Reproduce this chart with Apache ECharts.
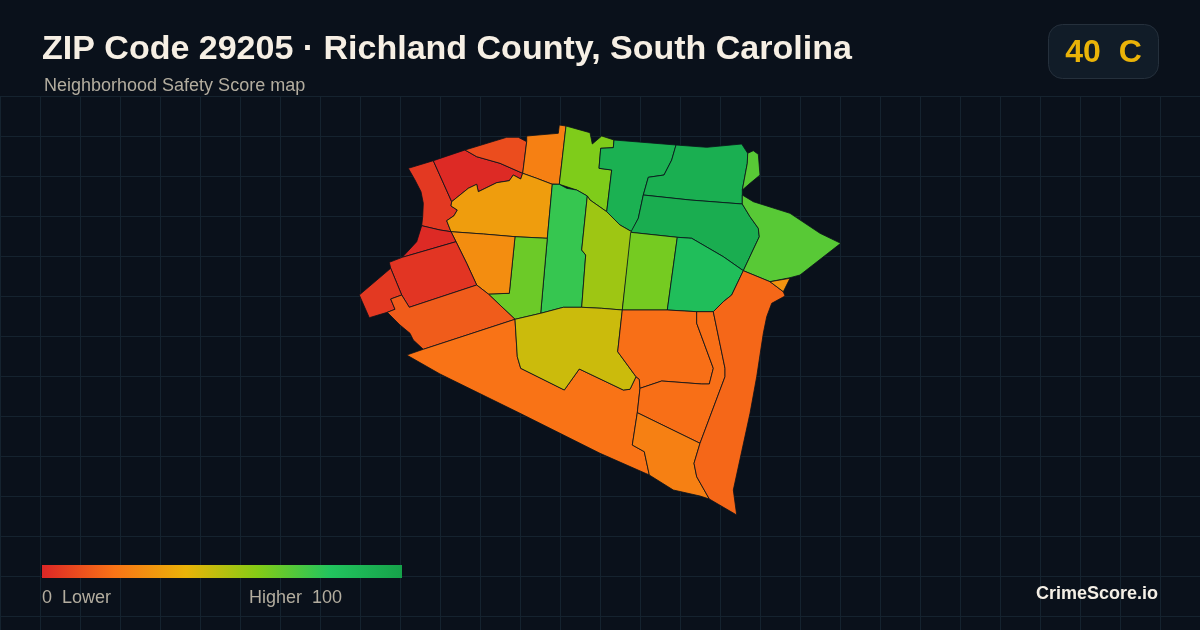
<!DOCTYPE html>
<html>
<head>
<meta charset="utf-8">
<style>html,body{margin:0;padding:0;background:#0a111b}#c{width:1200px;height:630px}</style>
<script src="https://cdn.jsdelivr.net/npm/echarts@6/dist/echarts.min.js"></script>
</head>
<body>
<div id="c"></div>
<script>
// Chart text
const titleText = 'ZIP Code 29205 · Richland County, South Carolina';
const subtitleText = 'Neighborhood Safety Score map';
const gradeText = '40  C';
const legendLow = '0  Lower';
const legendHigh = 'Higher  100';
const brandText = 'CrimeScore.io';

// Score scale
const scoreMin = 0;
const scoreMax = 100;
const scaleColors = ['#dc2626', '#f97316', '#eab308', '#84cc16', '#22c55e', '#16a34a'];

// Neighborhood scores
const regionNames = ['A','B','C','D','E','F','G','H','I','J','K','L','M','N','O','P','Q','S','R','T','U','V','W','X','Z','AA','AB','AC'];
const regionScores = [5,1,10,24,33,61,92,93,94,69,69,76,55,63,84,65,28,1,4,5,14,20,46,19,19,24,17,30];

// Neighborhood outlines (map units, y pointing down)
const regionOutlines = [
 [[408.3,168.3],[433.3,160.7],[451.7,201.7],[451,206],[457.3,210],[454,215.7],[446.7,220.7],[451,231.7],[440,230],[421.7,225.7],[422.7,216.7],[423.3,203.3],[421,191.7],[415,180]],
 [[433.3,160.7],[465,150],[476.7,156.7],[500,163.3],[522.7,173.3],[520.7,179],[513.3,175],[509.3,180.7],[496.7,182.7],[478.3,191.7],[476.7,184.3],[468.3,188.3],[451.7,201.7]],
 [[465,150],[506.7,137.3],[518.3,137.3],[526.7,141.7],[522.7,173.3],[500,163.3],[476.7,156.7]],
 [[526.7,141.7],[526.7,136],[558.3,133.3],[559.3,125],[566,126],[559.3,184.3],[551.7,184],[536.7,178.3],[522.7,173.3]],
 [[513.3,175],[520.7,179],[522.7,173.3],[536.7,178.3],[552.3,184.3],[547.3,238.3],[515,236.7],[483.3,234],[451,231.7],[446.7,220.7],[454,215.7],[457.3,210],[451,206],[451.7,201.7],[468.3,188.3],[476.7,184.3],[478.3,191.7],[496.7,182.7],[509.3,180.7]],
 [[566,126],[590,132.7],[592.3,144],[601.7,136],[614,140],[613.3,147.7],[600.7,148.3],[599,168.3],[611.7,170],[606.7,211.7],[590,200],[587.3,196],[576.7,190],[559.3,184.3]],
 [[614,140],[676,145],[671.7,160],[664,175],[648.3,177.3],[643.3,195],[638.3,218.3],[631.7,231.7],[620,225],[606.7,211.7],[611.7,170],[599,168.3],[600.7,148.3],[613.3,147.7]],
 [[676,145],[706.7,147.3],[741.7,144],[747.7,153.3],[747.3,163.3],[742.3,190],[742.3,204],[690,200],[643.3,195],[648.3,177.3],[664,175],[671.7,160]],
 [[643.3,195],[690,200],[742.3,204],[750,216.7],[758.3,228.3],[759.3,236.7],[743.3,270.7],[723.3,256.7],[691.7,238.3],[677.3,237.3],[630.7,232.3],[631.7,231.7],[638.3,218.3]],
 [[747.7,153.3],[753.3,150.7],[758.3,154.3],[760,175],[750,183.3],[742.3,190],[747.3,163.3]],
 [[742.3,204],[742.3,195],[753.3,201.7],[790,213.3],[820,233.3],[840.7,243.3],[800,275],[790,277.7],[770,281.7],[743.3,270.7],[759.3,236.7],[758.3,228.3],[750,216.7]],
 [[552.3,184.3],[559.3,184.3],[566.7,188.3],[576.7,190],[587.3,196],[581.7,250],[585.7,255],[581.7,307.3],[563.3,307.3],[540.7,313.3],[547.3,238.3]],
 [[587.3,196],[590,200],[606.7,211.7],[620,225],[631.7,231.7],[630.7,232.3],[622.3,310],[601.7,308.3],[581.7,307.3],[585.7,255],[581.7,250]],
 [[630.7,232.3],[677.3,237.3],[667.3,310],[622.3,310]],
 [[677.3,237.3],[691.7,238.3],[723.3,256.7],[743.3,270.7],[731.7,295],[723.3,301.7],[713.3,311.7],[696.7,311.7],[667.3,310]],
 [[515,236.7],[547.3,238.3],[540.7,313.3],[515,319.3],[488.3,294],[509.3,293.3]],
 [[451,231.7],[483.3,234],[515,236.7],[509.3,293.3],[488.3,294],[476.7,285],[466.7,263.3],[456,241.7]],
 [[421.7,225.7],[440,230],[451,231.7],[456,241.7],[402.3,257.3],[416.7,241.7]],
 [[389.3,262.3],[402.3,257.3],[456,241.7],[466.7,263.3],[476.7,285],[409.3,307.3],[401.7,295],[390.7,268.3]],
 [[359.3,295],[390.7,268.3],[401.7,295],[390.7,299],[395,309.3],[387.3,312.3],[369.3,317.7]],
 [[390.7,299],[401.7,295],[409.3,307.3],[476.7,285],[488.3,294],[515,319.3],[423.3,349.3],[413.3,340],[410,333.3],[400,325],[387.3,312.3],[395,309.3]],
 [[406.7,355],[423.3,349.3],[515,319.3],[517.3,356.7],[520.7,368.3],[564.3,390],[579.3,369],[623.3,390],[630,389.3],[636,376.7],[639.3,379.3],[640,388.3],[637.3,412.7],[632.3,445],[644.3,451.7],[649.3,475],[600,453.3],[520,413.3],[440,374]],
 [[515,319.3],[540.7,313.3],[563.3,307.3],[581.7,307.3],[601.7,308.3],[622.3,310],[617.7,351.7],[636,376.7],[630,389.3],[623.3,390],[579.3,369],[564.3,390],[520.7,368.3],[517.3,356.7]],
 [[622.3,310],[667.3,310],[696.7,311.7],[696.7,323.3],[713.3,368.3],[709.3,384],[701.7,384],[661.7,381],[640,388.3],[639.3,379.3],[636,376.7],[617.7,351.7]],
 [[696.7,311.7],[713.3,311.7],[725,368.3],[725,376.7],[700,443.3],[637.3,412.7],[640,388.3],[661.7,381],[701.7,384],[709.3,384],[713.3,368.3],[696.7,323.3]],
 [[637.3,412.7],[700,443.3],[694,463.3],[696.7,476.7],[709.3,499],[700,496],[673.3,490],[649.3,475],[644.3,451.7],[632.3,445]],
 [[713.3,311.7],[723.3,301.7],[731.7,295],[743.3,270.7],[770,281.7],[783.3,291.7],[785,296],[771.7,303.3],[766.7,316.7],[763.3,333.3],[756.7,376.7],[750,413.3],[733.3,490],[736.7,515],[709.3,499],[696.7,476.7],[694,463.3],[700,443.3],[725,376.7],[725,368.3]],
 [[770,281.7],[790,278.3],[783.3,291.7]]
];

const geoJson = {
  type: 'FeatureCollection',
  features: regionNames.map((name, i) => ({
    type: 'Feature',
    properties: { name },
    geometry: { type: 'Polygon', coordinates: [regionOutlines[i].map(p => [p[0], -p[1]])] }
  }))
};
echarts.registerMap('zip29205', geoJson);

const chart = echarts.init(document.getElementById('c'), null, { renderer: 'canvas' });
const FONT = '"Liberation Sans", Arial, sans-serif';
const gridLine = { show: true, lineStyle: { color: '#15232f', width: 1 } };
const hiddenAxis = { type: 'value', axisLine: { show: false }, axisTick: { show: false }, axisLabel: { show: false }, splitLine: gridLine };
const mutedText = { color: '#b3ad9f', fontFamily: FONT, fontSize: 18, fontWeight: 'normal' };

chart.setOption({
  backgroundColor: '#0a111b',
  animation: false,
  title: [
    { text: titleText, left: 42, top: 33, padding: 0, textStyle: { color: '#f6efe4', fontFamily: FONT, fontSize: 34, fontWeight: 'bold' } },
    { text: subtitleText, left: 44, top: 77, padding: 0, textStyle: mutedText },
    { text: legendLow, left: 42, top: 589, padding: 0, textStyle: mutedText },
    { text: legendHigh, left: 249, top: 589, padding: 0, textStyle: mutedText },
    { text: brandText, right: 42, top: 585, padding: 0, textStyle: { color: '#f4efe6', fontFamily: FONT, fontSize: 18, fontWeight: 'bold' } }
  ],
  grid: { left: 0, right: 0, top: 96, bottom: 0, show: false },
  xAxis: Object.assign({ min: 0, max: 1200, interval: 40 }, hiddenAxis),
  yAxis: Object.assign({ min: 0, max: 534, interval: 40, inverse: true }, hiddenAxis),
  visualMap: {
    type: 'continuous',
    show: false,
    seriesIndex: 0,
    min: scoreMin,
    max: scoreMax,
    inRange: { color: scaleColors }
  },
  series: [{
    type: 'map',
    map: 'zip29205',
    aspectScale: 1,
    layoutCenter: [600, 320],
    layoutSize: 481.4,
    silent: true,
    label: { show: false },
    itemStyle: { borderColor: '#0a111b', borderWidth: 0.8 },
    emphasis: { disabled: true },
    data: regionNames.map((name, i) => ({ name, value: regionScores[i] }))
  }],
  graphic: [
    { type: 'rect', shape: { x: 42, y: 565, width: 360, height: 13 },
      style: { fill: new echarts.graphic.LinearGradient(0, 0, 1, 0, scaleColors.map((color, i) => ({ offset: i / (scaleColors.length - 1), color }))) }, z: 5 },
    { type: 'rect', shape: { x: 1048.5, y: 24.5, width: 110, height: 54, r: 14 }, style: { fill: '#111c28', stroke: '#25303c', lineWidth: 1 }, z: 5 },
    { type: 'text', x: 1103.5, y: 53, style: { text: gradeText, fill: '#eab308', font: 'bold 32px ' + FONT, textAlign: 'center', textVerticalAlign: 'middle' }, z: 6 }
  ]
});
</script>
</body>
</html>
